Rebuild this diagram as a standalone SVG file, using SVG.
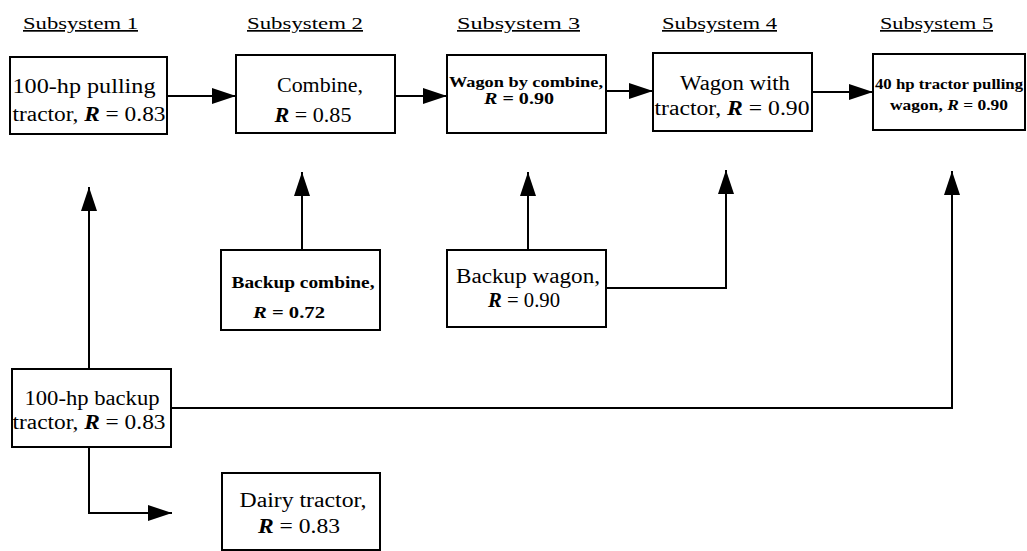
<svg xmlns="http://www.w3.org/2000/svg" width="1027" height="551" viewBox="0 0 1027 551">
<style>
.box{fill:#fff;stroke:#000;stroke-width:2}
.t{font-family:"Liberation Serif","Times New Roman",serif;fill:#000}
.hd{font-size:17px;text-decoration:underline}
.big{font-size:20px}
.mid{font-size:16px;font-weight:bold}
.sm{font-size:14px;font-weight:bold}
.i{font-style:italic;font-weight:bold}
.ln{fill:none;stroke:#000;stroke-width:2}
</style>
<defs>
<marker id="ah" viewBox="0 0 24 16" refX="24" refY="8" markerWidth="24" markerHeight="16" markerUnits="userSpaceOnUse" orient="auto">
<path d="M0,0 L24,8 L0,16 z" fill="#000"/>
</marker>
</defs>
<g id="headers">
<text class="t hd" x="23" y="29" textLength="115" lengthAdjust="spacingAndGlyphs">Subsystem 1</text>
<text class="t hd" x="247" y="29" textLength="116" lengthAdjust="spacingAndGlyphs">Subsystem 2</text>
<text class="t hd" x="457" y="29" textLength="123" lengthAdjust="spacingAndGlyphs">Subsystem 3</text>
<text class="t hd" x="662" y="29" textLength="115" lengthAdjust="spacingAndGlyphs">Subsystem 4</text>
<text class="t hd" x="880" y="29" textLength="113" lengthAdjust="spacingAndGlyphs">Subsystem 5</text>
</g>
<g id="connectors">
<line class="ln" x1="167" y1="96" x2="236" y2="96" marker-end="url(#ah)"/>
<line class="ln" x1="395" y1="96" x2="447" y2="96" marker-end="url(#ah)"/>
<line class="ln" x1="606" y1="91" x2="653" y2="91" marker-end="url(#ah)"/>
<line class="ln" x1="812" y1="92" x2="873" y2="92" marker-end="url(#ah)"/>
<line class="ln" x1="89" y1="369" x2="89" y2="187" marker-end="url(#ah)"/>
<line class="ln" x1="302" y1="250" x2="302" y2="172" marker-end="url(#ah)"/>
<line class="ln" x1="528" y1="250" x2="528" y2="172" marker-end="url(#ah)"/>
<polyline class="ln" points="606,288 726,288 726,170" marker-end="url(#ah)"/>
<polyline class="ln" points="171,408 952,408 952,171" marker-end="url(#ah)"/>
<polyline class="ln" points="89,447 89,513 172,513" marker-end="url(#ah)"/>
</g>
<g id="n1">
<rect class="box" x="10" y="57" width="157" height="77"/>
<text class="t big" x="84" y="93" text-anchor="middle" textLength="143" lengthAdjust="spacingAndGlyphs">100-hp pulling</text>
<text class="t big" x="89" y="121" text-anchor="middle" textLength="153" lengthAdjust="spacingAndGlyphs">tractor, <tspan class="i">R</tspan> = 0.83</text>
</g>
<g id="n2">
<rect class="box" x="236" y="55" width="159" height="78"/>
<text class="t big" x="320" y="92" text-anchor="middle" textLength="86" lengthAdjust="spacingAndGlyphs">Combine,</text>
<text class="t big" x="313" y="122" text-anchor="middle" textLength="77" lengthAdjust="spacingAndGlyphs"><tspan class="i">R</tspan> = 0.85</text>
</g>
<g id="n3">
<rect class="box" x="447" y="55" width="159" height="78"/>
<text class="t sm" x="526" y="87" text-anchor="middle" textLength="154" lengthAdjust="spacingAndGlyphs">Wagon by combine,</text>
<text class="t sm" x="519" y="104" text-anchor="middle" style="font-size:16px" textLength="70" lengthAdjust="spacingAndGlyphs"><tspan class="i">R</tspan> = 0.90</text>
</g>
<g id="n4">
<rect class="box" x="653" y="53" width="159" height="78"/>
<text class="t big" x="735" y="90" text-anchor="middle" textLength="110" lengthAdjust="spacingAndGlyphs">Wagon with</text>
<text class="t big" x="732" y="115" text-anchor="middle" textLength="155" lengthAdjust="spacingAndGlyphs">tractor, <tspan class="i">R</tspan> = 0.90</text>
</g>
<g id="n5">
<rect class="box" x="873" y="54" width="152" height="76"/>
<text class="t sm" x="949" y="89" text-anchor="middle" textLength="148" lengthAdjust="spacingAndGlyphs">40 hp tractor pulling</text>
<text class="t sm" x="949" y="110" text-anchor="middle" style="font-size:15px" textLength="118" lengthAdjust="spacingAndGlyphs">wagon, <tspan class="i">R</tspan> = 0.90</text>
</g>
<g id="n6">
<rect class="box" x="221" y="250" width="159" height="80"/>
<text class="t mid" x="303" y="288" text-anchor="middle" textLength="143" lengthAdjust="spacingAndGlyphs">Backup combine,</text>
<text class="t mid" x="289" y="318" text-anchor="middle" textLength="72" lengthAdjust="spacingAndGlyphs"><tspan class="i">R</tspan> = 0.72</text>
</g>
<g id="n7">
<rect class="box" x="447" y="250" width="159" height="77"/>
<text class="t big" x="528" y="283" text-anchor="middle" textLength="144" lengthAdjust="spacingAndGlyphs">Backup wagon,</text>
<text class="t big" x="524" y="307" text-anchor="middle" textLength="72" lengthAdjust="spacingAndGlyphs"><tspan class="i">R</tspan> = 0.90</text>
</g>
<g id="n8">
<rect class="box" x="12" y="369" width="159" height="78"/>
<text class="t big" x="92" y="405" text-anchor="middle" textLength="135" lengthAdjust="spacingAndGlyphs">100-hp backup</text>
<text class="t big" x="89" y="429" text-anchor="middle" textLength="153" lengthAdjust="spacingAndGlyphs">tractor, <tspan class="i">R</tspan> = 0.83</text>
</g>
<g id="n9">
<rect class="box" x="222" y="473" width="158" height="77"/>
<text class="t big" x="303" y="507" text-anchor="middle" textLength="127" lengthAdjust="spacingAndGlyphs">Dairy tractor,</text>
<text class="t big" x="299" y="533" text-anchor="middle" textLength="82" lengthAdjust="spacingAndGlyphs"><tspan class="i">R</tspan> = 0.83</text>
</g>
</svg>
